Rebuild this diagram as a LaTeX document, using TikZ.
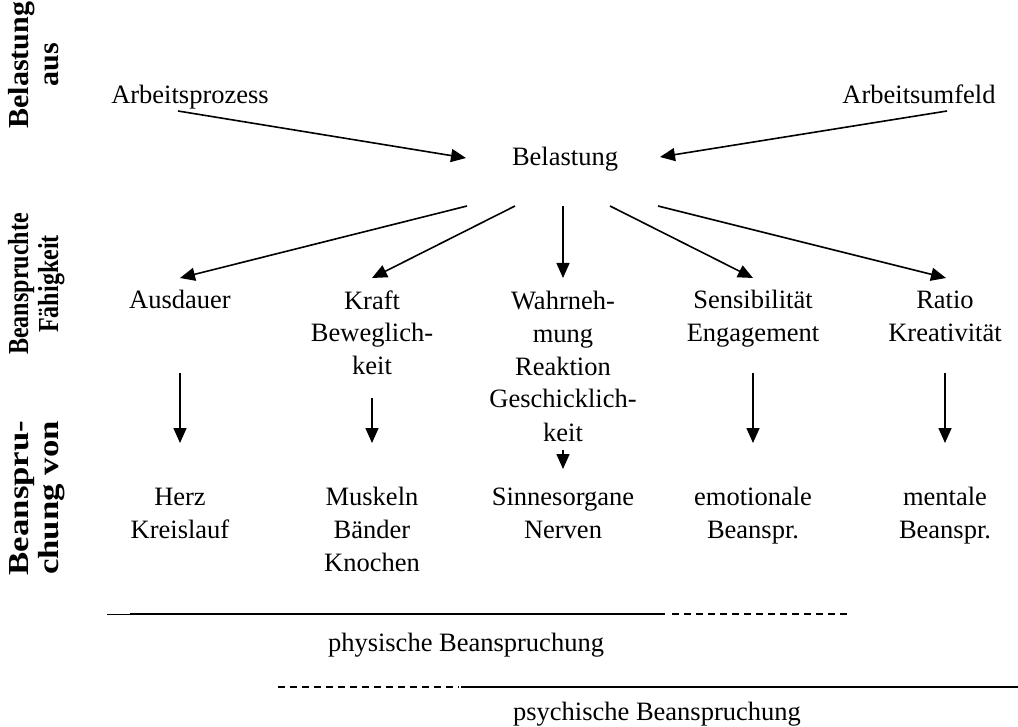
\documentclass[tikz,border=0pt]{standalone}
\usepackage{fontspec}
\setmainfont{Liberation Serif}
\usetikzlibrary{arrows.meta}
\newcommand{\bodysz}{\fontsize{26.5}{33}\selectfont}
\newcommand{\headsz}{\fontsize{29}{30}\selectfont\bfseries}
% two-line heading, scaled along its reading direction
\newcommand{\headtext}[3]{\scalebox{#1}[1]{\begin{tabular}{@{}c@{}}#2\\#3\end{tabular}}}
\begin{document}
\begin{tikzpicture}[x=1pt,y=-1pt,
  txt/.style={font=\bodysz, align=center, inner sep=0pt, anchor=base},
  head/.style={font=\headsz, inner sep=0pt, rotate=90},
  arr/.style={line width=1.6pt, -{Triangle[length=15pt,width=13pt]}},
  solidrule/.style={line width=2pt},
  dashrule/.style={line width=2pt, dash pattern=on 7pt off 5pt}]
\useasboundingbox (0,0) rectangle (1018,727);

% row headings on the left
\node[head] (h1) at (37,65)  {\headtext{1.035}{Belastung}{aus}};
\node[head] (h2) at (37,284) {\headtext{0.83}{Beanspruchte}{Fähigkeit}};
\node[head] (h3) at (37,498) {\headtext{1.2}{Beanspru-}{chung von}};

% sources of the load (base anchor = baseline of the last line)
\node[txt] (ap) at (190,104) {Arbeitsprozess};
\node[txt] (au) at (919,104) {Arbeitsumfeld};
\node[txt] (bel) at (565,166) {Belastung};

% abilities
\node[txt] (f1) at (180,309) {Ausdauer};
\node[txt] (f2) at (372,375) {Kraft\\Beweglich-\\keit};
\node[txt] (f3) at (563,441) {Wahrneh-\\mung\\Reaktion\\Geschicklich-\\keit};
\node[txt] (f4) at (753,342) {Sensibilität\\Engagement};
\node[txt] (f5) at (945,342) {Ratio\\Kreativität};

% strained organs
\node[txt] (b1) at (180,538) {Herz\\Kreislauf};
\node[txt] (b2) at (372,571) {Muskeln\\Bänder\\Knochen};
\node[txt] (b3) at (563,538) {Sinnesorgane\\Nerven};
\node[txt] (b4) at (753,538) {emotionale\\Beanspr.};
\node[txt] (b5) at (945,538) {mentale\\Beanspr.};

% connector end points
\coordinate (apOut) at (178,111);
\coordinate (auOut) at (947,111);
\coordinate (belInL) at (466,158);
\coordinate (belInR) at (660,157);
\coordinate (belO1) at (467,206);
\coordinate (belO2) at (515,206);
\coordinate (belO3) at (563,206);
\coordinate (belO4) at (610,206);
\coordinate (belO5) at (658,206);
\coordinate (f1In) at (180,278);
\coordinate (f2In) at (372,278);
\coordinate (f3In) at (563,278);
\coordinate (f4In) at (753,278);
\coordinate (f5In) at (946,278);
\coordinate (f1Out) at (180,373);
\coordinate (f2Out) at (372,398);
\coordinate (f3Out) at (563,450);
\coordinate (f4Out) at (753,373);
\coordinate (f5Out) at (945,373);
\coordinate (b1In) at (180,443);
\coordinate (b2In) at (372,443);
\coordinate (b3In) at (563,469);
\coordinate (b4In) at (753,443);
\coordinate (b5In) at (945,443);

\draw[arr] (apOut) -- (belInL);
\draw[arr] (auOut) -- (belInR);
\foreach \i in {1,...,5} {
  \draw[arr] (belO\i) -- (f\i In);
  \draw[arr] (f\i Out) -- (b\i In);
}

% extent of physical and mental strain
\draw[line width=1pt] (107,614) -- (130,614);
\draw[solidrule] (130,614) -- (665,614);
\draw[dashrule] (672,614) -- (848,614);
\node[txt] (phys) at (466,651) {physische Beanspruchung};

\draw[dashrule] (278,687) -- (459,687);
\draw[solidrule] (461,687) -- (1018,687);
\node[txt] (psych) at (657,720) {psychische Beanspruchung};
\end{tikzpicture}
\end{document}
